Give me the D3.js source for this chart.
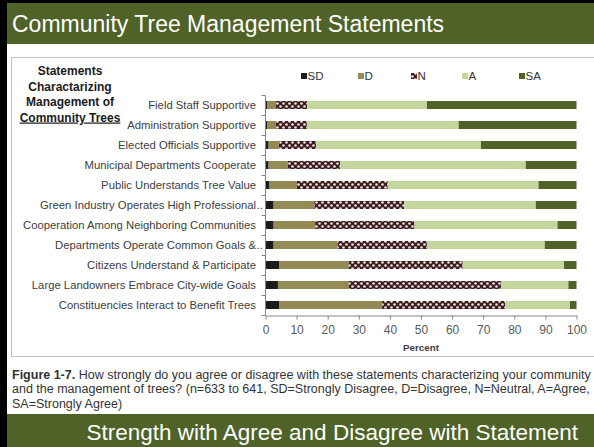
<!DOCTYPE html>
<html>
<head>
<meta charset="utf-8">
<script src="https://cdn.jsdelivr.net/npm/d3@7"></script>
<style>
  html, body { margin: 0; padding: 0; background: #ffffff; }
  svg { display: block; font-family: "Liberation Sans", Arial, sans-serif; }
</style>
</head>
<body>
<svg id="chart" width="594" height="447"></svg>
<script>
// Survey statements (top to bottom)
const categories = [
  "Field Staff Supportive",
  "Administration Supportive",
  "Elected Officials Supportive",
  "Municipal Departments Cooperate",
  "Public Understands Tree Value",
  "Green Industry Operates High Professional",
  "Cooperation Among Neighboring Communities",
  "Departments Operate Common Goals &",
  "Citizens Understand & Participate",
  "Large Landowners Embrace City-wide Goals",
  "Constituencies Interact to Benefit Trees"
];
// labels cut short by the axis get a trailing ".."
const truncated = [false, false, false, false, false, true, false, true, false, false, false];

// response shares, percent
const seriesKeys = ["SD", "D", "N", "A", "SA"];
const sdValues = [0.6, 0.5, 1.0, 1.0, 1.3, 2.6, 2.6, 2.6, 4.5, 4.0, 4.5];
const dValues  = [2.8, 2.9, 3.3, 6.2, 8.8, 13.1, 13.4, 20.6, 22.3, 22.8, 33.0];
const nValues  = [10.0, 9.9, 12.0, 16.8, 29.2, 28.9, 31.9, 28.7, 36.6, 48.9, 39.6];
const aValues  = [38.5, 48.8, 53.0, 59.7, 48.5, 42.3, 46.0, 37.9, 32.6, 21.7, 20.8];
const saValues = [48.1, 37.9, 30.7, 16.3, 12.2, 13.1, 6.1, 10.2, 4.0, 2.6, 2.1];
const xTicks = [0, 10, 20, 30, 40, 50, 60, 70, 80, 90, 100];

const headingLines = ["Statements", "Charactarizing", "Management of", "Community Trees"];
const captionLines = [
  ["Figure 1-7.", " How strongly do you agree or disagree with these statements characterizing your community"],
  ["", "and the management of trees? (n=633 to 641, SD=Strongly Disagree, D=Disagree, N=Neutral, A=Agree,"],
  ["", "SA=Strongly Agree)"]
];

const green = "#4f6228";
const colors = { SD: "#1c1c1c", D: "#948a54", N: "url(#neutralFill)", A: "#c3d69b", SA: "#4f6228" };

const svg = d3.select("#chart");

// checkered fill used for the Neutral series
const defs = svg.append("defs");
const pat = defs.append("pattern").attr("id", "neutralFill")
  .attr("patternUnits", "userSpaceOnUse").attr("width", 6).attr("height", 6);
pat.append("rect").attr("width", 6).attr("height", 6).attr("fill", "#3a1f22");
pat.append("circle").attr("cx", 1.5).attr("cy", 1.5).attr("r", 1.35).attr("fill", "#f4dcdc");
pat.append("circle").attr("cx", 4.5).attr("cy", 4.5).attr("r", 1.35).attr("fill", "#f4dcdc");

// slide frame
svg.append("rect").attr("x", 0).attr("y", 0).attr("width", 7).attr("height", 447).attr("fill", "#000");
svg.append("rect").attr("x", 0).attr("y", 0).attr("width", 594).attr("height", 3).attr("fill", "#000");
svg.append("rect").attr("x", 7).attr("y", 3).attr("width", 587).attr("height", 41).attr("fill", green);
svg.append("text").attr("x", 12).attr("y", 32)
  .attr("fill", "#fff").attr("font-size", 23)
  .text("Community Tree Management Statements");

// chart panel
svg.append("rect").attr("x", 11.5).attr("y", 57.5).attr("width", 600).attr("height", 299)
  .attr("fill", "#fff").attr("stroke", "#bfbfbf").attr("stroke-width", 1);

// heading at left
const heading = svg.append("text").attr("text-anchor", "middle")
  .attr("font-weight", "bold").attr("font-size", 12).attr("fill", "#1a1a1a");
headingLines.forEach((t, i) => {
  heading.append("tspan").attr("x", 70).attr("y", 75 + i * 15.5).text(t)
    .attr("text-decoration", i === headingLines.length - 1 ? "underline" : null);
});

// scales
const x = d3.scaleLinear().domain([0, 100]).range([265.5, 576.5]);
const y = d3.scaleBand().domain(categories).range([95, 315]).paddingInner(0.6).paddingOuter(0.3);

// stacked data
const rows = categories.map((c, i) => ({
  cat: c, SD: sdValues[i], D: dValues[i], N: nValues[i], A: aValues[i], SA: saValues[i]
}));
const stack = d3.stack().keys(seriesKeys)(rows);

svg.append("g").selectAll("g").data(stack).join("g")
  .attr("fill", d => colors[d.key])
  .selectAll("rect").data(d => d).join("rect")
  .attr("x", d => x(d[0]))
  .attr("width", d => x(d[1]) - x(d[0]))
  .attr("y", d => y(d.data.cat))
  .attr("height", y.bandwidth());

// y axis: line plus ticks between categories
const axisColor = "#868686";
const yEdges = d3.range(categories.length + 1).map(i => y.range()[0] + i * y.step());
svg.append("line").attr("x1", 265.5).attr("x2", 265.5)
  .attr("y1", yEdges[0]).attr("y2", yEdges[yEdges.length - 1])
  .attr("stroke", axisColor);
svg.append("g").selectAll("line").data(yEdges).join("line")
  .attr("x1", 261.5).attr("x2", 265.5)
  .attr("y1", d => Math.round(d) + 0.5).attr("y2", d => Math.round(d) + 0.5)
  .attr("stroke", axisColor);

// category labels
const labels = svg.append("g").attr("font-size", 11.3).attr("fill", "#404040");
categories.forEach((c, i) => {
  const cy = y(c) + y.bandwidth() / 2 + 4;
  labels.append("text").attr("x", 256).attr("y", cy).attr("text-anchor", "end").text(c);
  if (truncated[i]) labels.append("text").attr("x", 256.5).attr("y", cy).text("..");
});

// x axis
const xAxis = svg.append("g").attr("transform", "translate(0,315.5)")
  .call(d3.axisBottom(x).tickValues(xTicks).tickSizeInner(4).tickSizeOuter(0).tickPadding(6));
xAxis.select(".domain").attr("stroke", axisColor);
xAxis.selectAll(".tick line").attr("stroke", axisColor);
xAxis.selectAll(".tick text").attr("fill", "#595959")
  .attr("font-size", 12).attr("font-family", "'Liberation Sans', Arial, sans-serif");

svg.append("text").attr("x", x(50)).attr("y", 351).attr("text-anchor", "middle")
  .attr("font-weight", "bold").attr("font-size", 9.8).attr("fill", "#404040").text("Percent");

// legend
const legendPos = { SD: 301, D: 358, N: 411, A: 462, SA: 519 };
const legend = svg.append("g");
seriesKeys.forEach(k => {
  legend.append("rect").attr("x", legendPos[k]).attr("y", 73).attr("width", 6).attr("height", 6)
    .attr("fill", colors[k]);
  legend.append("text").attr("x", legendPos[k] + 6.5).attr("y", 80)
    .attr("font-size", 11.5).attr("fill", "#333").text(k);
});

// caption
captionLines.forEach((ln, i) => {
  const t = svg.append("text").attr("x", 12).attr("y", 379 + i * 14.3)
    .attr("font-size", 12.5).attr("fill", "#333");
  if (ln[0]) t.append("tspan").attr("font-weight", "bold").text(ln[0]);
  t.append("tspan").text(ln[1]);
});

// bottom banner
svg.append("rect").attr("x", 7).attr("y", 414).attr("width", 587).attr("height", 33).attr("fill", green);
svg.append("text").attr("x", 578).attr("y", 440).attr("text-anchor", "end")
  .attr("fill", "#fff").attr("font-size", 22.5)
  .text("Strength with Agree and Disagree with Statement");
</script>
</body>
</html>
